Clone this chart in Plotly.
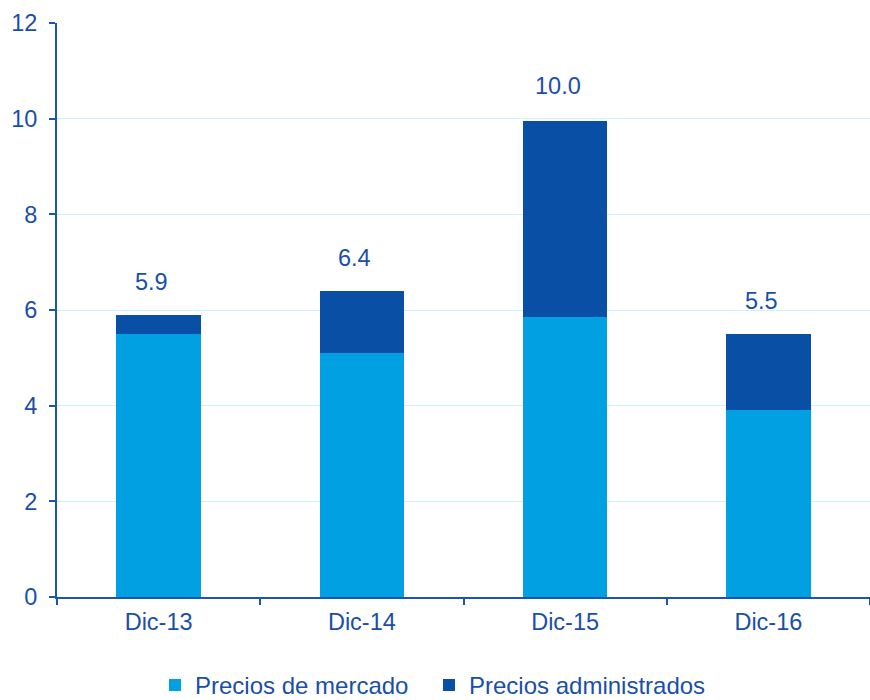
import plotly.graph_objects as go

categories = ["Dic-13", "Dic-14", "Dic-15", "Dic-16"]
mercado = [5.5, 5.1, 5.85, 3.9]
administrados = [0.4, 1.3, 4.1, 1.6]
totals = [5.9, 6.4, 10.0, 5.5]

axis_color = "#1A55B0"
text_color = "#1A4FA8"

fig = go.Figure()
fig.add_trace(go.Bar(x=categories, y=mercado, name="Precios de mercado",
                     marker=dict(color="#00A0E3", line=dict(width=0)), legend="legend"))
fig.add_trace(go.Bar(x=categories, y=administrados, name="Precios administrados",
                     marker=dict(color="#0A4FA6", line=dict(width=0)), legend="legend2"))

for c, v in zip(categories, totals):
    fig.add_annotation(x=c, y=v, text=f"{v:.1f}", showarrow=False,
                       yanchor="middle", yshift=33, xshift=-7,
                       font=dict(size=23.5, color=text_color, family="Liberation Sans"))

legend_style = dict(orientation="h", xref="container", yref="container",
                    xanchor="left", yanchor="middle", y=0.021,
                    font=dict(size=24, color=text_color), itemwidth=30,
                    bgcolor="rgba(0,0,0,0)")

fig.update_layout(
    barmode="stack",
    bargap=0.585,
    width=870, height=700,
    margin=dict(l=57, r=0, t=23, b=103),
    plot_bgcolor="white", paper_bgcolor="white",
    font=dict(family="Liberation Sans", color=text_color, size=24),
    legend=dict(x=155 / 870, **legend_style),
    legend2=dict(x=429 / 870, **legend_style),
    showlegend=True,
)
fig.update_xaxes(showline=True, linecolor=axis_color, linewidth=2, automargin=False,
                 ticks="outside", tickson="boundaries", ticklen=6, tickwidth=2,
                 tickcolor=axis_color, ticklabelstandoff=3,
                 tickfont=dict(size=23.5, color=text_color))
fig.update_yaxes(range=[0, 12], dtick=2, showline=True, linecolor=axis_color, linewidth=2,
                 automargin=False,
                 ticks="outside", ticklen=6, tickwidth=2, tickcolor=axis_color,
                 ticklabelstandoff=7,
                 showgrid=True, gridcolor="#CFF0FA", gridwidth=1, zeroline=False,
                 tickfont=dict(size=23.5, color=text_color))

fig.write_html("out.html", config={"displayModeBar": False},
               post_script="document.body.style.margin='0';document.body.style.overflow='hidden';")
